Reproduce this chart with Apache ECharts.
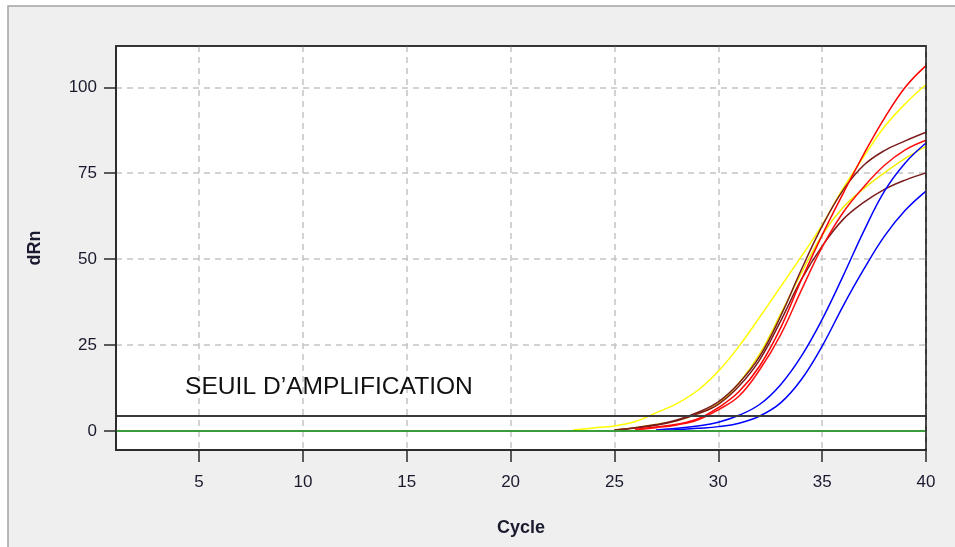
<!DOCTYPE html>
<html>
<head>
<meta charset="utf-8">
<script src="https://cdn.jsdelivr.net/npm/echarts@6/dist/echarts.min.js"></script>
<style>
html,body{margin:0;padding:0;background:#fff;}
#chart{width:955px;height:547px;}
</style>
</head>
<body>
<div id="chart"></div>
<script>
// ---- data ----
const cycles   = [22, 23, 24, 25, 26, 27, 28, 29, 30, 31, 32, 33, 34, 35, 36, 37, 38, 39, 40];
const yellowA  = [null, 0.3, 0.9, 1.5, 2.8, 5.3, 8.0, 11.8, 17.4, 24.7, 33.2, 42.0, 50.8, 60.0, 70.5, 79.8, 88.5, 95.2, 100.8];
const yellowB  = [null, null, null, 0.4, 1.0, 1.9, 3.0, 5.0, 8.0, 14.0, 22.5, 34.0, 46.0, 57.0, 65.0, 70.5, 75.1, 79.3, 82.8];
const redA     = [null, null, null, null, 0.5, 1.2, 2.0, 3.5, 6.8, 11.5, 19.0, 30.0, 44.0, 57.0, 69.0, 80.5, 91.0, 100.0, 106.3];
const redB     = [null, null, null, null, 0.4, 1.0, 1.8, 3.2, 6.2, 10.2, 17.9, 28.0, 41.0, 53.5, 63.5, 71.0, 77.3, 81.8, 84.6];
const brownA   = [null, null, null, 0.3, 1.0, 1.9, 3.2, 5.4, 8.5, 14.0, 21.8, 33.4, 47.0, 59.6, 70.0, 77.3, 81.6, 84.4, 86.9];
const brownB   = [null, null, null, 0.3, 0.9, 1.7, 3.0, 5.0, 7.8, 13.1, 20.8, 32.0, 44.1, 53.8, 61.5, 66.5, 70.3, 73.0, 75.1];
const blueA    = [null, null, null, null, null, 0.3, 0.8, 1.5, 2.6, 4.6, 7.8, 13.5, 21.8, 32.5, 45.0, 58.1, 69.8, 78.0, 83.8];
const blueB    = [null, null, null, null, null, 0.1, 0.4, 0.8, 1.3, 2.3, 4.4, 8.2, 15.0, 24.7, 36.3, 47.0, 56.7, 64.2, 69.8];
const xTicks   = [5, 10, 15, 20, 25, 30, 35, 40];
const yTicks   = [0, 25, 50, 75, 100];
const threshold = 4.4;
const baseline  = 0;
const thresholdLabel = 'SEUIL D\u2019AMPLIFICATION';

// ---- chart ----
const chart = echarts.init(document.getElementById('chart'), null, {renderer: 'canvas'});
const pairs = arr => cycles.map((c, i) => [c, arr[i]]);
const curves = [
  {name: 'Jaune 1', data: yellowA, color: '#ffff00'},
  {name: 'Jaune 2', data: yellowB, color: '#f2ee00'},
  {name: 'Marron 1', data: brownA, color: '#7b1c1c'},
  {name: 'Marron 2', data: brownB, color: '#7b1c1c'},
  {name: 'Rouge 1', data: redA, color: '#ff0000'},
  {name: 'Rouge 2', data: redB, color: '#ff1010'},
  {name: 'Bleu 1', data: blueA, color: '#0000ff'},
  {name: 'Bleu 2', data: blueB, color: '#0000ff'}
];
const labelFont = {fontFamily: 'Liberation Sans', fontSize: 17, color: '#1a1a2e'};

const series = curves.map(c => ({
  name: c.name,
  type: 'line',
  data: pairs(c.data),
  smooth: 0.4,
  showSymbol: false,
  symbol: 'none',
  lineStyle: {color: c.color, width: 1.5},
  itemStyle: {color: c.color},
  z: 3
}));
series.unshift({
  name: 'Lignes',
  type: 'line',
  data: [],
  markLine: {
    silent: true,
    symbol: 'none',
    label: {show: false},
    data: [
      {yAxis: baseline, lineStyle: {color: '#3a9c3a', width: 2, type: 'solid'}},
      {yAxis: threshold, lineStyle: {color: '#3a3a3a', width: 2, type: 'solid'}}
    ]
  },
  z: 2
});

chart.setOption({
  backgroundColor: '#ffffff',
  animation: false,
  graphic: [
    {type: 'rect', z: -100, shape: {x: 8, y: 6, width: 1000, height: 600},
     style: {fill: '#efefef', stroke: '#a3a3a3', lineWidth: 1.5}},
    {type: 'rect', z: 100, silent: true, shape: {x: 116, y: 46, width: 810, height: 404},
     style: {fill: null, stroke: '#2a2a2a', lineWidth: 1.5}},
    {type: 'text', z: 100, left: 185, top: 375,
     style: {text: thresholdLabel, font: '24.6px "Liberation Sans"', fill: '#111'}}
  ],
  grid: {left: 116, top: 46, right: 29, bottom: 97, show: true,
         backgroundColor: '#ffffff', borderColor: '#2a2a2a', borderWidth: 1.5},
  xAxis: {
    type: 'value', min: 1, max: 40,
    name: 'Cycle', nameLocation: 'middle', nameGap: 69,
    nameTextStyle: {fontFamily: 'Liberation Sans', fontWeight: 'bold', fontSize: 18, color: '#1a1a2e'},
    axisLine: {show: true, onZero: false, lineStyle: {color: '#2a2a2a', width: 1.5}},
    axisTick: {show: true, length: 12, customValues: xTicks, lineStyle: {color: '#2a2a2a', width: 1.5}},
    axisLabel: Object.assign({margin: 24, customValues: xTicks}, labelFont),
    splitLine: {show: true, lineStyle: {color: '#c4c4c4', width: 1.5, type: [6, 5]}}
  },
  yAxis: {
    type: 'value', min: -5.5, max: 112,
    name: 'dRn', nameLocation: 'middle', nameGap: 72, nameRotate: 90,
    nameTextStyle: {fontFamily: 'Liberation Sans', fontWeight: 'bold', fontSize: 18, color: '#1a1a2e'},
    axisLine: {show: true, onZero: false, lineStyle: {color: '#2a2a2a', width: 1.5}},
    axisTick: {show: true, length: 12, customValues: yTicks, lineStyle: {color: '#2a2a2a', width: 1.5}},
    axisLabel: Object.assign({margin: 19, customValues: yTicks}, labelFont),
    splitLine: {show: true, lineStyle: {color: '#c4c4c4', width: 1.5, type: [6, 5]}}
  },
  series: series
});
</script>
</body>
</html>
